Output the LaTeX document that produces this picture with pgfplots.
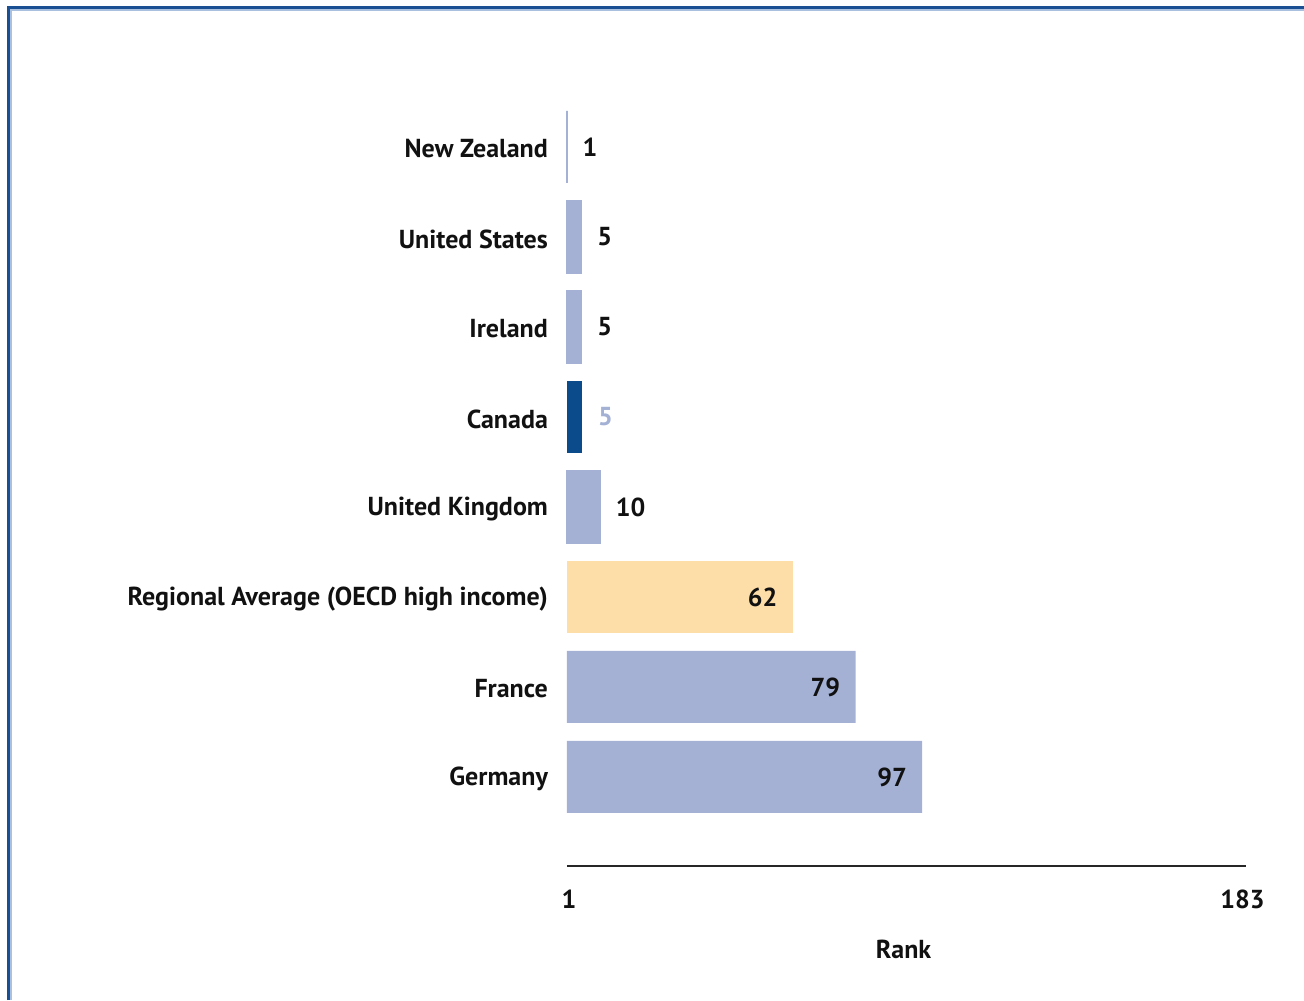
\documentclass[border=0pt]{standalone}
\usepackage{pgfplots}
\usepackage{pgfplotstable}
\pgfplotsset{compat=1.18}
\usepackage{fontspec}
\setmainfont{PT Sans}
\definecolor{barlight}{HTML}{A4B1D5}
\definecolor{bardark}{HTML}{0B4A8B}
\definecolor{barpeach}{HTML}{FEDEA8}
\definecolor{txt}{HTML}{111111}
\definecolor{frameblue}{HTML}{1A4F93}
\definecolor{framelight}{HTML}{A9C1DF}

% pos: vertical slot (7 = top), rank: value shown
\pgfplotstableread{
pos rank
7 1
6 5
5 5
3 10
}\lightout
\pgfplotstableread{
pos rank
4 5
}\darkbar
\pgfplotstableread{
pos rank
2 62
}\regavg
\pgfplotstableread{
pos rank
1 79
0 97
}\lightin

\begin{document}
\begin{tikzpicture}[font=\fontsize{13}{15}\selectfont\bfseries, text=txt]
\useasboundingbox (-283.5pt,-67pt) rectangle (368.5pt,433pt);
\draw[framelight, line width=0.6pt] (-278pt,-67pt) -- (-278pt,428pt) -- (368.5pt,428pt);
\draw[frameblue, line width=1.1pt] (-279.2pt,-67pt) -- (-279.2pt,429.2pt) -- (368.5pt,429.2pt);
\begin{axis}[
  scale only axis,
  width=339.5pt, height=395.5pt,
  xbar, bar width=36pt, bar shift=0pt,
  xmin=0, xmax=183.5,
  ymin=-0.99, ymax=7.8,
  clip=false,
  axis x line*=bottom,
  axis y line*=left,
  x axis line style={color=black!85, line width=1pt},
  y axis line style={draw=none},
  xtick={0,182}, xticklabels={1,183},
  major tick length=0pt,
  ytick={0,...,7},
  yticklabels={Germany, France, Regional Average (OECD high income), United Kingdom, Canada, Ireland, United States, New Zealand},
  yticklabel style={anchor=east, xshift=-6pt, yshift=-1pt, text=txt},
  xticklabel style={anchor=center, yshift=-16.5pt, xshift=1pt, text=txt},
  /pgf/number format/assume math mode=true,
  xlabel={Rank},
  xlabel style={at={(axis description cs:0.5,0)}, anchor=center, xshift=-1.5pt, yshift=-41.5pt, text=txt},
  point meta=explicit,
  nodes near coords,
  nodes near coords style={font=\fontsize{13}{15}\selectfont\bfseries, text=txt},
]
\addplot[fill=barlight, draw=barlight, line width=0.6pt,
  every node near coord/.append style={anchor=west, inner sep=0pt, xshift=7.5pt}]
  table[x expr=\thisrow{rank}-1, y=pos, meta=rank] {\lightout};
\addplot[fill=bardark, draw=none,
  every node near coord/.append style={anchor=west, inner sep=0pt, xshift=8pt, text=barlight}]
  table[x expr=\thisrow{rank}-1, y=pos, meta=rank] {\darkbar};
\addplot[fill=barpeach, draw=none,
  every node near coord/.append style={anchor=east, inner sep=0pt, xshift=-7.5pt}]
  table[x expr=\thisrow{rank}-1, y=pos, meta=rank] {\regavg};
\addplot[fill=barlight, draw=none,
  every node near coord/.append style={anchor=east, inner sep=0pt, xshift=-7.5pt}]
  table[x expr=\thisrow{rank}-1, y=pos, meta=rank] {\lightin};
\end{axis}
\end{tikzpicture}
\end{document}
